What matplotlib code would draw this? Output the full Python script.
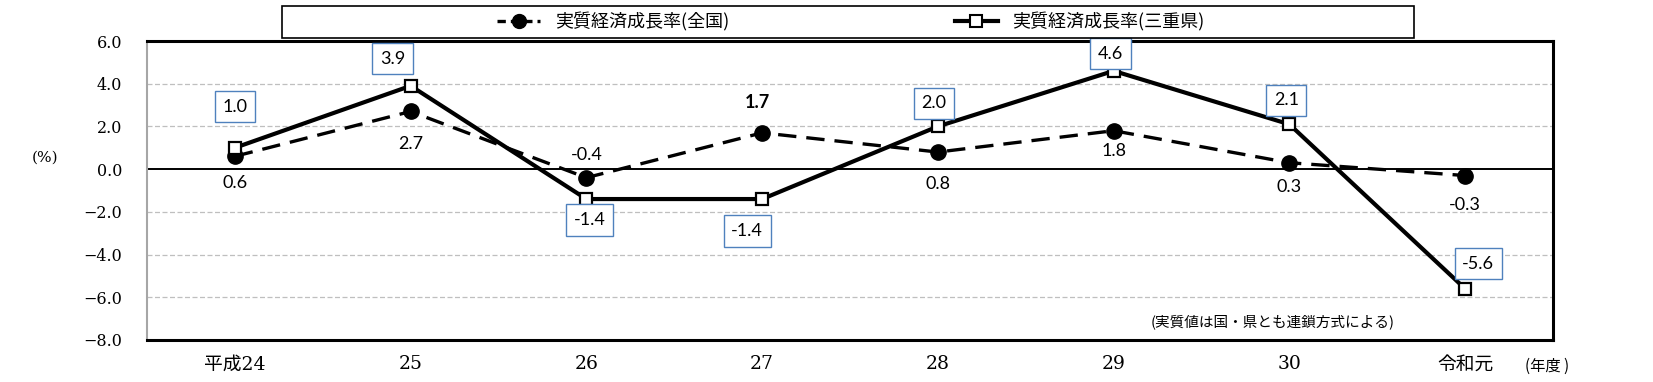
import matplotlib.pyplot as plt
from matplotlib.lines import Line2D
from matplotlib.patches import Rectangle
import numpy as np

# data
years = ["平成24", "25", "26", "27", "28", "29", "30", "令和元"]
national = [0.6, 2.7, -0.4, 1.7, 0.8, 1.8, 0.3, -0.3]
mie = [1.0, 3.9, -1.4, -1.4, 2.0, 4.6, 2.1, -5.6]
yticks = [-8, -6, -4, -2, 0, 2, 4, 6]

# label offsets in pixels (dx, dy), dy positive = up
nat_off = [(0, -27), (0, -33), (0, 23), (-5, 30), (0, -32), (0, -20), (0, -24), (0, -29)]
mie_off = [(0, 41), (-18, 27), (3, -21), (-15, -32), (-4, 23), (-3, 17), (-3, 24), (13, 25)]

fig = plt.figure(figsize=(16.53, 3.82), dpi=100)
ax = fig.add_axes([147 / 1653, 1 - 340 / 382, (1553 - 147) / 1653, 299 / 382])

x = np.arange(len(years))

ax.plot(x, national, color="black", lw=2.4, dashes=(5.5, 3), marker="o",
        markersize=11, markerfacecolor="black", zorder=3)
ax.plot(x, mie, color="black", lw=3, marker="s", markersize=8.5,
        markerfacecolor="white", markeredgecolor="black", markeredgewidth=1.6, zorder=4)

for i, v in enumerate(national):
    dx, dy = nat_off[i]
    ax.annotate(f"{v:.1f}", (x[i], v), xytext=(dx, dy), textcoords="offset pixels",
                ha="center", va="center", fontsize=13, family="Lato",
                fontweight="bold" if i == 3 else "normal", zorder=5)

for i, v in enumerate(mie):
    dx, dy = mie_off[i]
    ax.annotate(f"{v:.1f}", (x[i], v), xytext=(dx, dy), textcoords="offset pixels",
                ha="center", va="center", fontsize=13, family="Lato", zorder=5,
                bbox=dict(boxstyle="square,pad=0.42", fc="white", ec="#4F81BD", lw=1))

ax.set_xlim(-0.5, len(years) - 0.5)
ax.set_ylim(-8, 6)
ax.set_yticks(yticks)
ax.set_yticklabels([f"{t:.1f}".replace("-", "\u2212") for t in yticks],
                   family="DejaVu Serif", fontsize=11.5)
ax.set_xticks(x)
ax.set_xticklabels(years, family=["DejaVu Serif", "Noto Sans CJK JP"], fontsize=13.5)
ax.tick_params(axis="y", length=0, pad=18)
ax.tick_params(axis="x", length=0, pad=11)

for t in [-6, -4, -2, 2, 4]:
    ax.axhline(t, color="#BFBFBF", lw=0.9, dashes=(4, 2), zorder=1)
ax.axhline(0, color="black", lw=1.4, zorder=2)

for s in ["top", "bottom", "right"]:
    ax.spines[s].set_linewidth(2.2)
    ax.spines[s].set_color("black")
ax.spines["left"].set_linewidth(1.5)
ax.spines["left"].set_color("#A6A6A6")

# legend
handles = [
    Line2D([], [], color="black", lw=2.4, dashes=(2.5, 1.5), marker="o", markersize=10),
    Line2D([], [], color="black", lw=3, marker="s", markersize=8,
           markerfacecolor="white", markeredgewidth=1.5),
]
fig.legend(handles, ["実質経済成長率(全国)", "実質経済成長率(三重県)"], ncol=2,
           loc="center left", bbox_to_anchor=(497 / 1653, 1 - 22 / 382),
           frameon=False, borderpad=0, borderaxespad=0, handlelength=2.4,
           handletextpad=0.8, columnspacing=12.5,
           prop={"family": "Noto Sans CJK JP", "size": 13})
fig.patches.append(Rectangle((282 / 1653, 1 - 38 / 382), (1414 - 282) / 1653, 32 / 382,
                             transform=fig.transFigure, fill=False, ec="black", lw=1.2))

fig.text(45 / 1653, 1 - 158 / 382, "(%)", ha="center", va="center",
         family="DejaVu Serif", fontsize=11)
fig.text(1273 / 1653, 1 - 322 / 382, "(実質値は国・県とも連鎖方式による)", ha="center",
         va="center", family="Noto Sans CJK JP", fontsize=10.5)
fig.text(1547 / 1653, 1 - 366 / 382, "(年度 )", ha="center", va="center",
         family="Noto Sans CJK JP", fontsize=11)

plt.savefig("out.png", dpi=100)
